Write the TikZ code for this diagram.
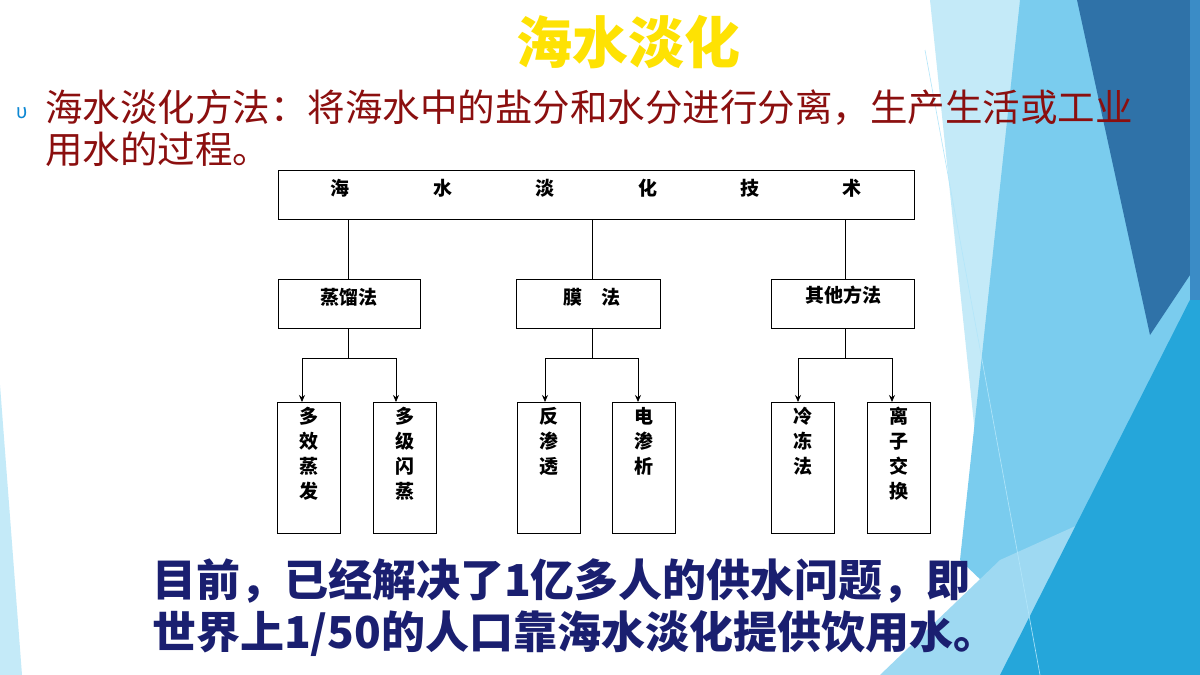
\documentclass[tikz,border=0pt]{standalone}
\usepackage{fontspec}
\setmainfont{Noto Sans CJK SC}
\usetikzlibrary{arrows.meta}
\definecolor{dred}{HTML}{8B0F0F}
\definecolor{navy}{HTML}{1A1F70}
\definecolor{bgA}{HTML}{C4EAF8}
\definecolor{bgB}{HTML}{7ACCEE}
\definecolor{bgC}{HTML}{9ED9F2}
\definecolor{bgD}{HTML}{25A6DA}
\definecolor{bgE}{HTML}{2F72A8}
\definecolor{bgF}{HTML}{3B8CC6}
\tikzset{x=1pt,y=-1pt,
 box/.style={draw,line width=1pt,fill=white},
 lab/.style={font=\bfseries\fontsize{19}{22}\selectfont,inner sep=0},
 vlab/.style={font=\bfseries\fontsize{19}{25}\selectfont,align=center,anchor=north,inner sep=0},
 arr/.style={-{Stealth[length=7pt,width=6pt]},line width=0.8pt},
 ln/.style={line width=0.8pt}}
\begin{document}
\begin{tikzpicture}
\useasboundingbox (0,0) rectangle (1200,675);
% background
\fill[white] (0,0) rectangle (1200,675);
\fill[bgA] (930,0)--(1200,0)--(1200,675)--(1000,675)--cycle;
\fill[bgB] (1020,0)--(1200,0)--(1200,675)--(1080,675)--(960,560)--cycle;
\fill[bgC] (880,675)--(1000,560)--(1200,470)--(1200,675)--cycle;
\fill[bgD] (1200,280)--(1200,675)--(1000,675)--cycle;
\fill[bgE] (1077,0)--(1200,0)--(1200,260)--(1150,335)--cycle;
\fill[bgF] (1190,0)--(1200,0)--(1200,300)--(1190,300)--cycle;
\fill[bgA] (0,385)--(22,675)--(0,675)--cycle;
\draw[white!70!cyan,line width=0.6pt] (925,50)--(1040,675);
% title
\node[font=\bfseries\fontsize{56}{60}\selectfont,text=yellow!85!orange,inner sep=0] (title) at (628,42) {海水淡化};
\node[text=cyan!70!blue,font=\fontsize{20}{20}\selectfont,inner sep=0] (bul) at (22,113) {υ};
\node[text=dred,font=\fontsize{37.5}{42}\selectfont,anchor=north west,align=left,inner sep=0] (intro) at (45,90) {海水淡化方法：将海水中的盐分和水分进行分离，生产生活或工业\\用水的过程。};
% top box
\node[box,minimum width=636pt,minimum height=49pt,anchor=north west,inner sep=0] (top) at (278,170) {};
\foreach \x/\c in {340/海,443/水,545/淡,648/化,750/技,852/术}
  \node[lab] at (\x,188) {\c};
% middle boxes
\node[box,minimum width=142pt,minimum height=49pt,anchor=north west,inner sep=0] (m1) at (278,279) {};
\node[lab] at (349,297) {蒸馏法};
\node[box,minimum width=144pt,minimum height=49pt,anchor=north west,inner sep=0] (m2) at (516,279) {};
\node[lab] at (592,297) {膜\hspace{1em}法};
\node[box,minimum width=143pt,minimum height=49pt,anchor=north west,inner sep=0] (m3) at (771,279) {};
\node[lab] at (843,295) {其他方法};
\draw[ln] (348,219)--(348,279);
\draw[ln] (592,219)--(592,279);
\draw[ln] (845,219)--(845,279);
% bottom boxes
\foreach \n/\x/\t in {b1/277/多\\效\\蒸\\发, b2/373/多\\级\\闪\\蒸, b3/517/反\\渗\\透, b4/612/电\\渗\\析, b5/771/冷\\冻\\法, b6/867/离\\子\\交\\换}{
  \node[box,minimum width=63pt,minimum height=131pt,anchor=north west,inner sep=0] (\n) at (\x,402) {};
  \node[vlab] at (\x+32,407) {\t};
}
\foreach \c/\l/\r in {348/302/396, 592/545/638, 845/798/892}{
  \draw[ln] (\c,328)--(\c,358);
  \draw[ln] (\l,358)--(\r,358);
  \draw[arr] (\l,358)--(\l,402);
  \draw[arr] (\r,358)--(\r,402);
}
% bottom text
\node[text=navy,font=\bfseries\fontsize{44}{52}\selectfont,anchor=north west,align=left,inner sep=0] (note) at (152,558) {目前，已经解决了1亿多人的供水问题，即\\世界上1/50的人口靠海水淡化提供饮用水。};
\end{tikzpicture}
\end{document}
